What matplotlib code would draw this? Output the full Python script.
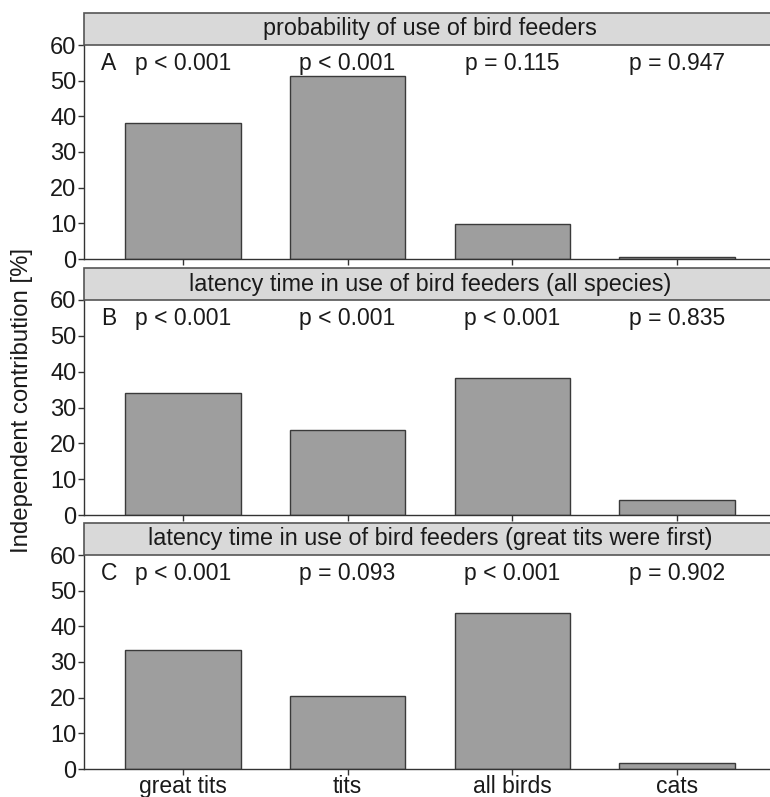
import matplotlib
matplotlib.use("Agg")
import matplotlib.pyplot as plt
from matplotlib.patches import Rectangle

plt.rcParams['font.family'] = ['Liberation Sans', 'DejaVu Sans']

categories = ['great tits', 'tits', 'all birds', 'cats']
titles = ['probability of use of bird feeders',
          'latency time in use of bird feeders (all species)',
          'latency time in use of bird feeders (great tits were first)']
letters = ['A', 'B', 'C']
values_a = [38.0, 51.3, 9.8, 0.6]
values_b = [34.0, 23.7, 38.2, 4.1]
values_c = [33.4, 20.4, 43.8, 1.7]
pvals_a = ['p < 0.001', 'p < 0.001', 'p = 0.115', 'p = 0.947']
pvals_b = ['p < 0.001', 'p < 0.001', 'p < 0.001', 'p = 0.835']
pvals_c = ['p < 0.001', 'p = 0.093', 'p < 0.001', 'p = 0.902']

W, H = 770, 797
fig = plt.figure(figsize=(W / 100, H / 100), dpi=100)

# pixel layout: (top of strip, top of plot, bottom of plot)
panels = [(13, 45, 259), (268, 300, 515), (523, 555, 769)]
left, right = 84, 776

all_vals = [values_a, values_b, values_c]
all_p = [pvals_a, pvals_b, pvals_c]
x = list(range(1, len(categories) + 1))

for i, (s_top, p_top, p_bot) in enumerate(panels):
    ax = fig.add_axes([left / W, (H - p_bot) / H, (right - left) / W, (p_bot - p_top) / H])
    ax.bar(x, all_vals[i], width=0.7, color='#9e9e9e', edgecolor='#3a3a3a', linewidth=1.0)
    ax.set_xlim(0.4, 4.6)
    ax.set_ylim(0, 60)
    ax.set_yticks([0, 10, 20, 30, 40, 50, 60])
    ax.set_xticks(x)
    if i == 2:
        ax.set_xticklabels(categories)
    else:
        ax.set_xticklabels([])
    for sp in ['top', 'right']:
        ax.spines[sp].set_visible(False)
    for sp in ['left', 'bottom']:
        ax.spines[sp].set_color('#333333')
        ax.spines[sp].set_linewidth(1.0)
    ax.tick_params(axis='both', labelsize=17, length=4, width=1, color='#333333',
                   labelcolor='#1a1a1a', pad=1.5)
    ax.tick_params(axis='x', labelsize=16.5, pad=0.5)
    ax.text(0.55, 54.7, letters[i], fontsize=16.5, ha='center', va='center', color='#1a1a1a')
    for xi, p in zip(x, all_p[i]):
        ax.text(xi, 54.7, p, fontsize=16.5, ha='center', va='center', color='#1a1a1a')

    # strip header
    sax = fig.add_axes([left / W, (H - p_top) / H, (right - left) / W, (p_top - s_top) / H])
    sax.set_xlim(0, 1)
    sax.set_ylim(0, 1)
    sax.axis('off')
    sax.add_patch(Rectangle((0, 0), 1, 1, facecolor='#d9d9d9', edgecolor='#555555',
                            linewidth=1.2, clip_on=False))
    sax.text(0.5, 0.5, titles[i], fontsize=16.8, ha='center', va='center', color='#1a1a1a')

fig.text(22 / W, 1 - 400 / H, 'Independent contribution [%]', rotation=90, fontsize=17.3,
         ha='center', va='center', color='#1a1a1a')

fig.savefig('out.png', dpi=100)
